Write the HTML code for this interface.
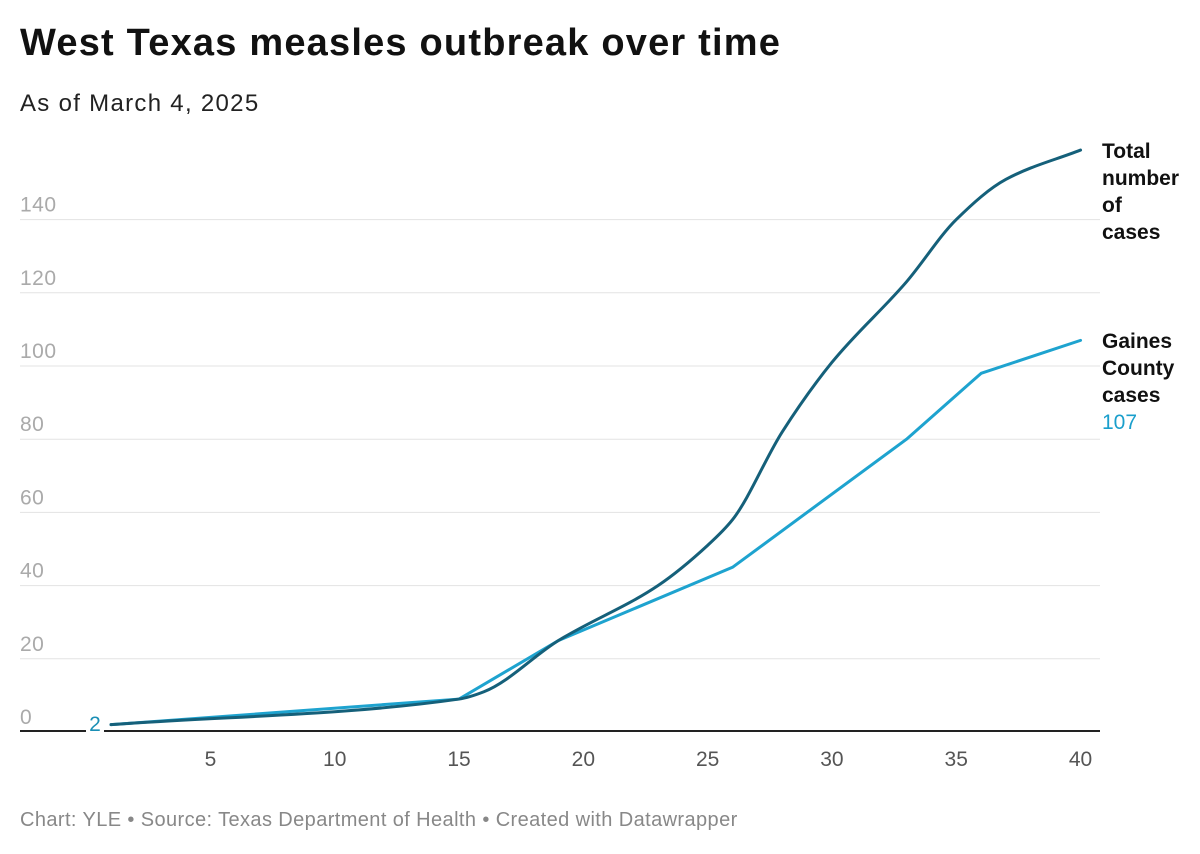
<!DOCTYPE html>
<html><head><meta charset="utf-8"><style>
body{margin:0;background:#fff;font-family:"Liberation Sans",sans-serif;}
#wrap{position:relative;width:1200px;height:854px;overflow:hidden}
h1{position:absolute;left:20px;top:22px;margin:0;font-size:38px;font-weight:bold;color:#111;letter-spacing:1.2px}
.sub{position:absolute;left:20px;top:90px;font-size:24px;color:#222;letter-spacing:1.3px}
.foot{position:absolute;left:20px;top:809px;font-size:20px;color:#888;letter-spacing:0.4px}
</style></head><body>
<div id="wrap">
<h1>West Texas measles outbreak over time</h1>
<div class="sub">As of March 4, 2025</div>
<svg id="svg" width="1200" height="854" style="position:absolute;left:0;top:0"></svg>
<div class="foot">Chart: YLE • Source: Texas Department of Health • Created with Datawrapper</div>
</div>
<script>
const yTicks=[0,20,40,60,80,100,120,140];
const xTicks=[5,10,15,20,25,30,35,40];
const totalX=[1,15,16,19,23,25,26,28,30,33,35,37,40];
const totalY=[2,9,11,25,40,51,58,82,101,123,140,151,159];
const gainesX=[1,15,19,26,33,36,40];
const gainesY=[2,9,25,45,80,98,107];
const NS="http://www.w3.org/2000/svg";
const svg=document.getElementById('svg');
const sx=v=>111+(v-1)*24.86;
const sy=v=>732-v*3.66;
function mk(t,a,p){const e=document.createElementNS(NS,t);for(const k in a)e.setAttribute(k,a[k]);(p||svg).appendChild(e);return e;}
yTicks.forEach(t=>{
 if(t>0){const g=mk('line',{x1:20,x2:1100,y1:sy(t),y2:sy(t),stroke:'#e3e3e3','stroke-width':1});
 
 }
 const l=mk('text',{x:20,y:sy(t)-8,'font-size':21,fill:'#aaa','font-family':'Liberation Sans','letter-spacing':0.5});l.textContent=t;
 
 
});
xTicks.forEach(t=>{
 const l=mk('text',{x:sx(t),y:766,'font-size':21,fill:'#555','text-anchor':'middle','font-family':'Liberation Sans'});l.textContent=t;
 
 
});
const b1=mk('line',{x1:20,x2:86,y1:731,y2:731,stroke:'#222','stroke-width':2});


const b2=mk('line',{x1:104,x2:1100,y1:731,y2:731,stroke:'#222','stroke-width':2});


function monotone(xs,ys){
 const n=xs.length,px=xs.map(sx),py=ys.map(sy);const d=[],m=[];
 for(let i=0;i<n-1;i++)d.push((py[i+1]-py[i])/(px[i+1]-px[i]));
 m[0]=d[0];m[n-1]=d[n-2];
 for(let i=1;i<n-1;i++){if(d[i-1]*d[i]<=0)m[i]=0;else{const h0=px[i]-px[i-1],h1=px[i+1]-px[i];m[i]=3*(h0+h1)/((2*h1+h0)/d[i-1]+(h1+2*h0)/d[i]);}}
 let s='M'+px[0]+','+py[0];
 for(let i=0;i<n-1;i++){const h=(px[i+1]-px[i])/3;s+=' C'+(px[i]+h)+','+(py[i]+m[i]*h)+' '+(px[i+1]-h)+','+(py[i+1]-m[i+1]*h)+' '+px[i+1]+','+py[i+1];}
 return s;
}
const gp=mk('path',{d:'M'+gainesX.map((x,i)=>sx(x)+','+sy(gainesY[i])).join(' L'),fill:'none',stroke:'#1ea3cf','stroke-width':3,'stroke-linejoin':'round','stroke-linecap':'round'});


const tp=mk('path',{d:monotone(totalX,totalY),fill:'none',stroke:'#15607a','stroke-width':3,'stroke-linecap':'round'});


const s2=mk('text',{x:95,y:731,'font-size':21,fill:'#1a8fb5','text-anchor':'middle','font-family':'Liberation Sans'});s2.textContent=gainesY[0];


function lab(lines,y,name){
 const t=mk('text',{x:1102,y:y,'font-size':21,'font-weight':'bold',fill:'#111','font-family':'Liberation Sans'});
 
 
 lines.forEach((s,i)=>{const ts=mk('tspan',{x:1102,dy:i?27:0},t);ts.textContent=s;});
 return t;
}
lab(['Total','number','of','cases'],158,'total-series-label');
lab(['Gaines','County','cases'],348,'gaines-series-label');
const v=mk('text',{x:1102,y:429,'font-size':21,fill:'#1a9fcc','font-family':'Liberation Sans'});v.textContent=gainesY[gainesY.length-1];


</script>
</body></html>
